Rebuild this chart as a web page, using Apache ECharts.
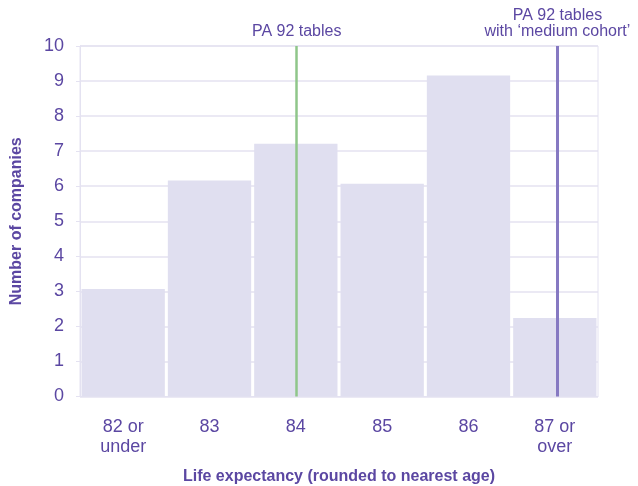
<!DOCTYPE html>
<html>
<head>
<meta charset="utf-8">
<script src="https://cdn.jsdelivr.net/npm/echarts@6/dist/echarts.min.js"></script>
<style>
  html, body { margin: 0; padding: 0; background: #fff; }
  #chart { width: 638px; height: 486px; }
</style>
</head>
<body>
<div id="chart"></div>
<script>
// categories and values
var categories = ['82 or\nunder', '83', '84', '85', '86', '87 or\nover'];
var companies = [3.07, 6.16, 7.21, 6.07, 9.16, 2.24];
// reference lines, in category units (0 = left edge, 6 = right edge)
var refLines = [
    { pos: 2.51, label: 'PA 92 tables', color: '#8fc68a', width: 2.5 },
    { pos: 5.53, label: 'PA 92 tables\nwith \u2018medium cohort\u2019', color: '#8679c2', width: 3 }
];

var textColor = '#5b47a2';
var lineColor = '#e4e2f1';
var font = 'Liberation Sans, Arial, sans-serif';

var chart = echarts.init(document.getElementById('chart'));

var option = {
    animation: false,
    grid: {
        left: 80, right: 40, top: 46, bottom: 89.5,
        outerBoundsMode: 'none',
        containLabel: false,
        show: true, borderColor: lineColor, borderWidth: 1
    },
    xAxis: [{
        type: 'category',
        data: categories,
        name: 'Life expectancy (rounded to nearest age)',
        nameLocation: 'middle',
        nameGap: 72,
        nameTextStyle: { color: textColor, fontFamily: font, fontSize: 16, fontWeight: 'bold' },
        axisLine: { lineStyle: { color: lineColor } },
        axisTick: { length: 7, lineStyle: { color: lineColor } },
        axisLabel: { color: textColor, fontFamily: font, fontSize: 18, lineHeight: 20, margin: 21 }
    }, {
        type: 'value',
        min: 0, max: 6,
        show: false
    }],
    yAxis: {
        type: 'value',
        min: 0, max: 10, interval: 1,
        name: 'Number of companies',
        nameLocation: 'middle',
        nameGap: 55,
        nameTextStyle: { color: textColor, fontFamily: font, fontSize: 16, fontWeight: 'bold' },
        axisLine: { show: true, lineStyle: { color: lineColor } },
        axisTick: { show: true, length: 4, lineStyle: { color: lineColor } },
        splitLine: { lineStyle: { color: lineColor, width: 1.5 } },
        axisLabel: { color: textColor, fontFamily: font, fontSize: 18, margin: 16 }
    },
    series: [{
        type: 'bar',
        data: companies,
        barCategoryGap: '3.5%',
        itemStyle: { color: '#e0dff0' }
    }, {
        type: 'line',
        xAxisIndex: 1,
        data: [],
        markLine: {
            symbol: 'none',
            silent: true,
            data: refLines.map(function (r) {
                return {
                    xAxis: r.pos,
                    lineStyle: { color: r.color, width: r.width, type: 'solid' },
                    label: {
                        show: true,
                        position: 'end',
                        formatter: r.label,
                        color: textColor,
                        fontFamily: font,
                        fontSize: 16,
                        lineHeight: 16,
                        distance: 6
                    }
                };
            })
        }
    }]
};

chart.setOption(option);
</script>
</body>
</html>
